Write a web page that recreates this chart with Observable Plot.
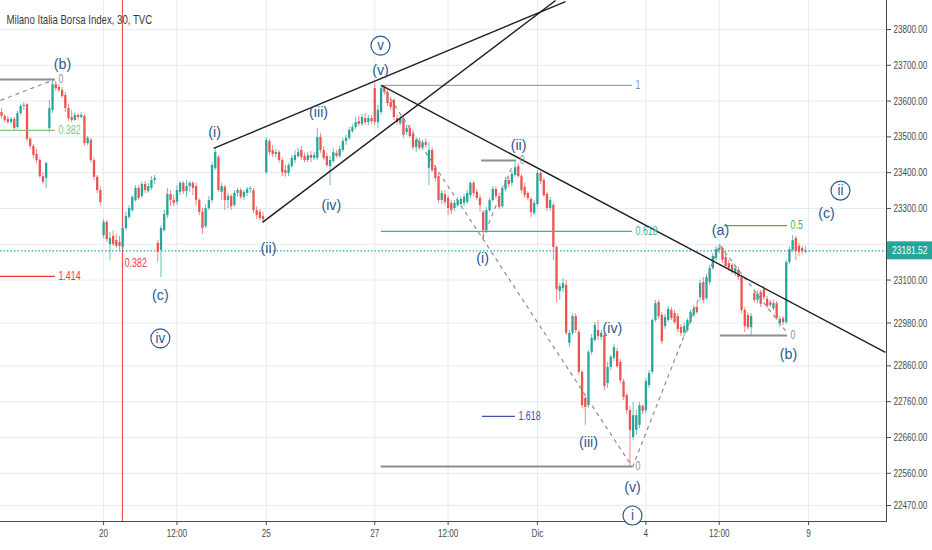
<!DOCTYPE html>
<html><head><meta charset="utf-8">
<script src="https://cdn.jsdelivr.net/npm/d3@7"></script>
<script src="https://cdn.jsdelivr.net/npm/@observablehq/plot@0.6"></script>
<style>body{margin:0;background:#fff}</style>
</head><body><div id="chart"></div>
<script>
// ---- data: 30-minute candles, bar index 0 = first visible bar (Nov 18) ----
const openP = [
23568,23557,23549,23540,23549,23526,23565,23585,23590,23493,23473,23451,23434,23389,23384,
23523,23574,23646,23638,23630,23616,23579,23554,23546,23560,23554,23557,23481,23490,23434,23387,23350,
23224,23261,23199,23222,23210,23205,23191,23244,23275,23294,23322,23356,23333,23367,23347,23356,23378,
23202,23183,23238,23280,23339,23322,23317,23345,23370,23347,23361,23370,23361,23322,23289,23249,23300,
23322,23412,23442,23345,23359,23322,23333,23308,23342,23350,23331,23342,23353,23350,23294,23289,23277,
23400,23487,23462,23451,23456,23434,23406,23398,23417,23434,23445,23462,23445,23434,23448,23440,23440,
23498,23462,23445,23417,23431,23454,23445,23462,23487,23496,23515,23526,23543,23535,23551,23540,23551,
23635,23540,23568,23635,23624,23596,23602,23551,23537,23551,23512,23523,23507,23470,23487,23470,23484,
23412,23462,23412,23389,23322,23339,23328,23314,23300,23308,23311,23314,23317,23336,23370,23345,23328,
23289,23238,23294,23322,23353,23333,23305,23353,23378,23370,23392,23417,23389,23359,23342,23325,23286,
23311,23398,23378,23339,23300,23308,23191,23068,23076,23085,22923,22951,22998,22953,22842,22769,22749,
22898,22931,22959,22940,22945,22811,22856,22881,22900,22870,22816,22777,22735,22660,22680,22694,22746,
22735,22805,22842,22987,23037,23001,22970,22987,23015,23006,22998,22967,22953,22959,22981,23001,23023,
23051,23093,23048,23093,23132,23160,23183,23188,23163,23146,23141,23118,23127,23107,23015,23001,22967,
23062,23043,23065,23073,23046,23037,23020,23034,22979,22992,22981,23149,23183,23216,23194,23188,23178];
const highP = [
23579,23562,23557,23554,23554,23571,23590,23596,23593,23498,23479,23465,23440,23400,23428,
23602,23660,23655,23646,23638,23624,23590,23574,23568,23565,23568,23562,23501,23496,23440,23392,23359,
23269,23266,23233,23238,23227,23222,23249,23289,23308,23336,23364,23364,23373,23375,23370,23389,23392,
23210,23252,23294,23356,23350,23336,23364,23375,23375,23378,23375,23375,23370,23328,23300,23311,23333,
23428,23468,23448,23370,23364,23342,23339,23350,23356,23356,23350,23359,23361,23356,23305,23297,23289,
23498,23493,23476,23465,23462,23442,23420,23426,23448,23462,23468,23473,23454,23456,23459,23456,23523,
23510,23473,23454,23445,23468,23462,23473,23496,23504,23526,23535,23554,23557,23562,23565,23560,23560,
23649,23588,23644,23641,23630,23610,23607,23560,23557,23557,23532,23532,23518,23498,23496,23490,23493,
23484,23470,23420,23395,23350,23350,23336,23322,23322,23331,23333,23339,23350,23375,23375,23353,23336,
23294,23303,23328,23361,23361,23342,23361,23387,23387,23403,23428,23426,23395,23370,23347,23331,23322,
23406,23403,23384,23345,23331,23314,23196,23090,23104,23099,22959,23006,23006,22959,22847,22777,22903,
22948,22981,22987,22959,22951,22870,22889,22920,22909,22878,22822,22783,22746,22758,22735,22758,22752,
22825,22847,22992,23043,23043,23009,23004,23026,23023,23015,23006,22976,22981,22992,23015,23029,23032,
23099,23107,23116,23141,23174,23194,23199,23194,23171,23155,23146,23141,23135,23113,23023,23009,23006,
23071,23068,23071,23082,23054,23043,23043,23040,22998,22998,23155,23194,23224,23222,23202,23194,23194];
const lowP = [
23551,23540,23535,23535,23515,23521,23560,23574,23487,23465,23440,23426,23384,23367,23356,
23512,23565,23627,23624,23607,23568,23543,23540,23543,23546,23549,23473,23476,23426,23378,23342,23308,
23216,23205,23155,23194,23188,23183,23185,23238,23269,23289,23317,23322,23328,23342,23342,23350,23367,
23149,23107,23233,23272,23305,23305,23308,23336,23339,23331,23345,23336,23308,23280,23227,23244,23294,
23314,23406,23345,23322,23294,23300,23294,23303,23331,23325,23322,23333,23342,23286,23269,23266,23261,
23395,23448,23442,23442,23426,23389,23387,23389,23412,23426,23440,23434,23428,23428,23428,23434,23434,
23454,23434,23414,23364,23426,23440,23440,23456,23476,23490,23510,23521,23529,23529,23532,23532,23535,
23532,23523,23560,23616,23585,23574,23546,23532,23532,23496,23504,23496,23462,23456,23462,23462,23468,
23364,23400,23373,23314,23311,23308,23280,23283,23291,23303,23305,23305,23311,23328,23333,23322,23289,
23210,23230,23289,23317,23325,23297,23300,23347,23359,23361,23387,23384,23342,23328,23322,23275,23280,
23305,23367,23331,23291,23291,23155,23037,23043,23065,22945,22911,22945,22951,22833,22741,22694,22741,
22889,22926,22931,22931,22791,22797,22847,22872,22853,22811,22763,22724,22576,22652,22666,22685,22724,
22727,22797,22836,22981,22990,22920,22962,22981,22987,22976,22953,22942,22942,22953,22976,22995,23004,
23043,23034,23043,23085,23127,23152,23174,23146,23132,23124,23116,23110,23099,23006,22953,22959,22945,
23037,23034,23023,23043,23020,23023,23015,22987,22967,22973,22976,23143,23177,23155,23166,23171,23174];
const closeP = [
23557,23546,23540,23549,23523,23565,23585,23588,23493,23473,23448,23434,23389,23373,23426,
23579,23646,23635,23630,23613,23579,23551,23546,23560,23554,23560,23481,23496,23434,23387,23350,23317,
23261,23213,23216,23199,23194,23194,23244,23277,23300,23331,23356,23328,23367,23350,23361,23378,23384,
23177,23244,23283,23339,23322,23314,23350,23370,23347,23361,23370,23356,23322,23289,23244,23300,23322,
23420,23456,23350,23361,23322,23333,23305,23342,23350,23331,23345,23353,23356,23294,23280,23272,23269,
23490,23456,23451,23456,23434,23400,23398,23420,23440,23448,23456,23442,23434,23448,23440,23448,23498,
23462,23440,23420,23434,23456,23445,23465,23487,23496,23518,23526,23540,23535,23554,23540,23551,23543,
23540,23574,23635,23624,23593,23582,23554,23540,23551,23504,23523,23501,23470,23490,23468,23484,23476,
23462,23406,23384,23322,23342,23317,23300,23294,23314,23322,23325,23331,23342,23370,23342,23328,23308,
23238,23294,23322,23353,23333,23303,23356,23378,23367,23395,23414,23389,23350,23336,23328,23289,23314,
23398,23375,23336,23300,23322,23191,23073,23082,23090,22951,22951,22998,22959,22842,22749,22744,22898,
22937,22973,22942,22951,22802,22856,22884,22911,22858,22819,22772,22735,22680,22721,22721,22749,22733,
22816,22839,22987,23034,22998,22928,22995,23018,22992,22981,22962,22951,22970,22987,23009,23020,23009,
23090,23043,23107,23132,23166,23185,23188,23155,23138,23132,23121,23132,23107,23015,22970,22967,22998,
23043,23060,23032,23051,23026,23029,23034,22992,22990,22981,23149,23185,23210,23180,23177,23180,23181.52];

const title = "Milano Italia Borsa Index, 30, TVC";
const lastPrice = 23181.52;
const dayTicks = [32, 55, 83, 117, 140, 168, 202, 225, 253];
const dayLabels = ["20", "12:00", "25", "27", "12:00", "Dic", "4", "12:00", "9"];
const priceTicks = [23800, 23700, 23600, 23500, 23400, 23300, 23200, 23100, 22980, 22860, 22760, 22660, 22560, 22470];
const hiddenTick = 23200; // label covered by the last-price badge
const markerBar = [37.9];

const waveLabels = [
  {i: 19.1, p: 23702, t: "(b)"}, {i: 66.8, p: 23512, t: "(i)"}, {i: 83.7, p: 23188, t: "(ii)"},
  {i: 99.4, p: 23568, t: "(iii)"}, {i: 103.4, p: 23308, t: "(iv)"}, {i: 118.8, p: 23685, t: "(v)"},
  {i: 49.8, p: 23057, t: "(c)"}, {i: 150.8, p: 23160, t: "(i)"}, {i: 162.1, p: 23478, t: "(ii)"},
  {i: 184.0, p: 22646, t: "(iii)"}, {i: 191.5, p: 22965, t: "(iv)"}, {i: 197.8, p: 22520, t: "(v)"},
  {i: 225.4, p: 23238, t: "(a)"}, {i: 246.7, p: 22892, t: "(b)"}, {i: 258.6, p: 23286, t: "(c)"}
];
const circledLabels = [
  {i: 118.8, p: 23755, t: "v"}, {i: 49.8, p: 22937, t: "iv"},
  {i: 263.0, p: 23350, t: "ii"}, {i: 197.8, p: 22442, t: "i"}
];
const trendLines = [
  {i1: 66.5, p1: 23468, i2: 176.8, p2: 23878},
  {i1: 81.8, p1: 23261, i2: 173.7, p2: 23881},
  {i1: 119.1, p1: 23644, i2: 277.1, p2: 22898}
];
const zigzag = [
  {i1: -0.3, p1: 23602, i2: 16.6, p2: 23660},
  {i1: 119.1, p1: 23644, i2: 150.8, p2: 23216},
  {i1: 150.8, p1: 23216, i2: 160.2, p2: 23420},
  {i1: 150.8, p1: 23216, i2: 197.8, p2: 22577},
  {i1: 197.8, p1: 22577, i2: 225.1, p2: 23197},
  {i1: 225.1, p1: 23197, i2: 246.4, p2: 22951}
];
const fibLines = [
  {tool: "retrace", level: "0", i1: -0.3, i2: 16.9, p: 23660},
  {tool: "retrace", level: "0.382", i1: -0.3, i2: 16.9, p: 23518},
  {tool: "extension", level: "1.414", i1: -0.3, i2: 16.9, p: 23110},
  {tool: "wave", level: "1", i1: 119.1, i2: 197.8, p: 23644},
  {tool: "wave", level: "0.618", i1: 119.1, i2: 197.8, p: 23236},
  {tool: "wave", level: "0", i1: 119.0, i2: 197.8, p: 22579},
  {tool: "wave2", level: "0", i1: 150.5, i2: 161.5, p: 23434},
  {tool: "wave2", level: "1.618", i1: 150.8, i2: 161.1, p: 22719},
  {tool: "abc", level: "0.5", i1: 226.6, i2: 246.4, p: 23252},
  {tool: "abc", level: "0", i1: 225.4, i2: 246.4, p: 22945}
];
const fibTextOnly = [{tool: "extension", level: "0.382", i: 38.6, p: 23146}];

// ---- drawing ----
const bars = closeP.map((c, i) => ({i, o: openP[i], h: highP[i], l: lowP[i], c}));
const GREEN = "#26a69a", RED = "#ef5350", WAVE = "#2a5b8c";
const candleColor = d => d.c >= d.o ? GREEN : RED;
const fibColor = d =>
  (d.level === "0" || d.level === "1") ? "#8a8d96" :
  (d.tool === "extension") ? "#f23645" :
  d.level === "0.382" ? "#81c784" :
  d.level === "0.618" ? "#3cb393" :
  d.level === "1.618" ? "#3f51b5" : "#4caf50";
const fibWidth = d => d.level === "0" ? 2 : d.level === "1" ? 1 : 1.3;
const FONT = "'Liberation Sans', Arial, sans-serif";

const plot = Plot.plot({
  width: 932, height: 550,
  marginTop: 0, marginRight: 46, marginBottom: 29, marginLeft: 0,
  style: {fontFamily: FONT, fontSize: "11px", color: "#4a4a4a", background: "#fff"},
  x: {domain: [-0.313, 277.43], ticks: dayTicks, tickFormat: d => dayLabels[dayTicks.indexOf(d)],
      tickSize: 4, tickPadding: 4, line: true, label: null},
  y: {domain: [22425.3, 23881], axis: "right", ticks: priceTicks,
      tickFormat: d => d === hiddenTick ? "" : d.toFixed(2),
      tickSize: 4, tickPadding: 3, line: true, label: null},
  color: {type: "identity"},
  marks: [
    Plot.ruleY(priceTicks, {stroke: "#e4ebf2"}),
    Plot.ruleX(dayTicks, {stroke: "#e4ebf2"}),
    Plot.ruleX(markerBar, {stroke: "#f23645", strokeWidth: 1}),
    Plot.ruleY([lastPrice], {stroke: GREEN, strokeDasharray: "1.5,2", strokeWidth: 1.2}),
    Plot.ruleX(bars, {x: "i", y1: "l", y2: "h", stroke: candleColor, strokeOpacity: 0.7, strokeWidth: 1}),
    Plot.ruleX(bars, {x: "i", y1: "o", y2: "c", stroke: candleColor, strokeWidth: 2.3}),
    Plot.ruleY(fibLines, {y: "p", x1: "i1", x2: "i2", stroke: fibColor, strokeWidth: fibWidth}),
    Plot.link(zigzag, {x1: "i1", y1: "p1", x2: "i2", y2: "p2", stroke: "#8a8d96", strokeDasharray: "4,4", strokeWidth: 1.2}),
    Plot.link(trendLines, {x1: "i1", y1: "p1", x2: "i2", y2: "p2", stroke: "#1b1e26", strokeWidth: 1.4}),
    Plot.text(fibLines, {x: "i2", y: "p", text: "level", dx: 3, textAnchor: "start", fill: fibColor, fontSize: 12}),
    Plot.text(fibTextOnly, {x: "i", y: "p", text: "level", textAnchor: "start", fill: fibColor, fontSize: 12}),
    Plot.text(waveLabels, {x: "i", y: "p", text: "t", fill: WAVE, fontSize: 15}),
    Plot.dot(circledLabels, {x: "i", y: "p", r: 9.5, stroke: WAVE, fill: "#fff", strokeWidth: 1.2}),
    Plot.text(circledLabels, {x: "i", y: "p", text: "t", fill: WAVE, fontSize: 14}),
    Plot.text([title], {text: d => d, frameAnchor: "top-left", dx: 6, dy: 19, textAnchor: "start",
      lineAnchor: "middle", fontSize: 13, fill: "#3a3a3a"})
  ]
});

// last-price badge on the right axis
const yS = plot.scale("y"), xS = plot.scale("x");
const yPos = yS.apply(lastPrice);
const xPos = xS.range[1];
const badge = d3.select(plot).append("g");
badge.append("rect").attr("x", xPos + 1).attr("y", yPos - 9).attr("width", 46).attr("height", 18).attr("fill", GREEN);
badge.append("text").attr("x", xPos + 6).attr("y", yPos).attr("dy", "0.35em").attr("fill", "#fff")
  .attr("text-anchor", "start").attr("font-size", 11.5).attr("font-family", FONT).text(lastPrice.toFixed(2));

document.getElementById("chart").appendChild(plot);

// the reference's text is horizontally condensed: squeeze each label around its own x anchor
d3.select(plot).selectAll("text").each(function () {
  const fill = getComputedStyle(this).fill;
  const f = fill === "rgb(42, 91, 140)" ? 0.95 : 0.74;
  let x = parseFloat(this.getAttribute("x"));
  if (!isFinite(x)) x = 0;
  const t = this.getAttribute("transform") || "";
  this.setAttribute("transform", `${t} translate(${x},0) scale(${f},1) translate(${-x},0)`.trim());
});
</script>
</body></html>
